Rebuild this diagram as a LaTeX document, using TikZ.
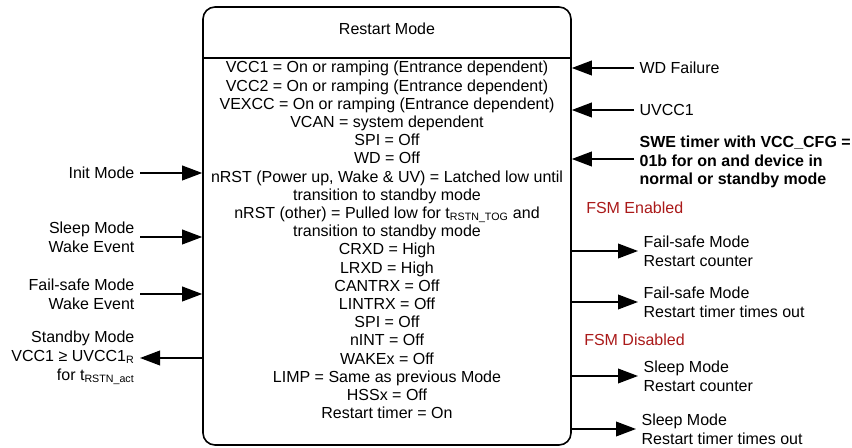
\documentclass[tikz,border=0pt]{standalone}
\usepackage{fontspec}
\setmainfont{Liberation Sans}
\usetikzlibrary{arrows.meta, positioning}
\definecolor{fsmred}{RGB}{170,25,25}
\tikzset{
  modebox/.style={rectangle,draw,rounded corners=9pt,line width=1.2pt,minimum width=276pt,minimum height=328.5pt},
  inlbl/.style={align=right,anchor=east,inner sep=4pt,font=\fontsize{12}{14.2}\selectfont},
  outlbl/.style={align=left,anchor=west,inner sep=4pt,font=\fontsize{12}{14.2}\selectfont},
  fsm/.style={anchor=west,inner sep=0pt,text=fsmred},
  line/.style={line width=1.2pt,-{Triangle[length=15pt,width=11pt]}}
}

\begin{document}
\begin{tikzpicture}[x=0.75pt,y=-0.75pt,font=\fontsize{12}{13.65}\selectfont]
\useasboundingbox (0,0) rectangle (852,448);
% restart mode state
\node[modebox] (mode) at (387,226) {};
\node (title) at (387,29) {Restart Mode};
\draw[line width=1.2pt] (mode.west |- 0,58) -- (mode.east |- 0,58);
\node[align=center,inner sep=0pt] (body) at (387,240) {%
VCC1 = On or ramping (Entrance dependent)\\
VCC2 = On or ramping (Entrance dependent)\\
VEXCC = On or ramping (Entrance dependent)\\
VCAN = system dependent\\
SPI = Off\\
WD = Off\\
nRST (Power up, Wake \& UV) = Latched low until\\
transition to standby mode\\
nRST (other) = Pulled low for t\textsubscript{RSTN\_TOG} and\\
transition to standby mode\\
CRXD = High\\
LRXD = High\\
CANTRX = Off\\
LINTRX = Off\\
SPI = Off\\
nINT = Off\\
WAKEx = Off\\
LIMP = Same as previous Mode\\
HSSx = Off\\
Restart timer = On};

% entries on the left
\node[inlbl] (init) at (140,173) {Init Mode};
\node[inlbl] (sleep) at (140,237) {Sleep Mode\\Wake Event};
\node[inlbl] (failsafe) at (140,294) {Fail-safe Mode\\Wake Event};
\node[inlbl] (standby) at (140,358) {Standby Mode\\VCC1 ≥ UVCC1\textsubscript{R}\\for t\textsubscript{RSTN\_act}};
\draw[line] (init) -- (init -| mode.west);
\draw[line] (sleep) -- (sleep -| mode.west);
\draw[line] (failsafe) -- (failsafe -| mode.west);
\draw[line] (standby -| mode.west) -- (standby);

% entries on the right
\node[outlbl] (wdfail) at (634,68) {WD Failure};
\node[outlbl] (uvcc) at (634,110) {UVCC1};
\node[outlbl,font=\fontsize{12}{13.65}\selectfont\bfseries] (swe) at (634,162) {SWE timer with VCC\_CFG =\\01b for on and device in\\normal or standby mode};
\draw[line] (wdfail) -- (wdfail -| mode.east);
\draw[line] (uvcc) -- (uvcc -| mode.east);
\draw[line] (swe.west |- 0,159) -- (mode.east |- 0,159);

% exits on the right
\node[fsm] (fsmon) at (586,208) {FSM Enabled};
\node[outlbl] (fscnt) at (638,251) {Fail-safe Mode\\Restart counter};
\node[outlbl] (fstmo) at (638,302) {Fail-safe Mode\\Restart timer times out};
\node[fsm] (fsmoff) at (584,340) {FSM Disabled};
\node[outlbl] (slcnt) at (638,376) {Sleep Mode\\Restart counter};
\node[outlbl] (sltmo) at (636,429) {Sleep Mode\\Restart timer times out};
\draw[line] (fscnt -| mode.east) -- (fscnt);
\draw[line] (fstmo -| mode.east) -- (fstmo);
\draw[line] (slcnt -| mode.east) -- (slcnt);
\draw[line] (sltmo -| mode.east) -- (sltmo);
\end{tikzpicture}
\end{document}
